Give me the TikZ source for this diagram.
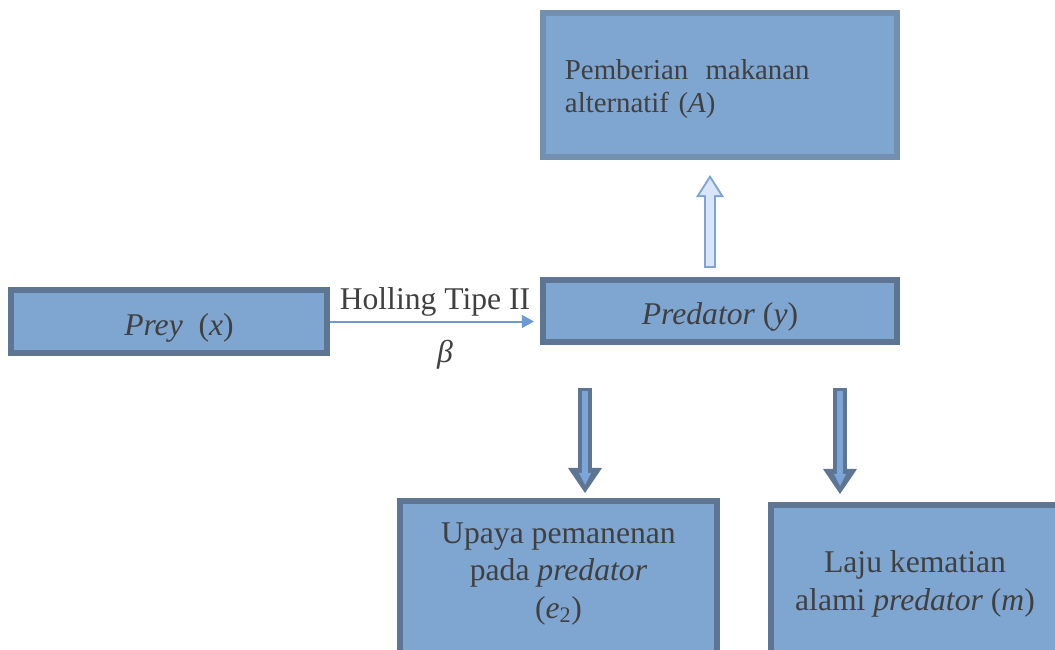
\documentclass[tikz,border=0pt]{standalone}
\usepackage{fontspec}
\setmainfont{Liberation Serif}
\usepackage{tikz}
\definecolor{boxblue}{HTML}{7FA5D1}
\definecolor{boxedge}{HTML}{5F7594}
\definecolor{topedge}{HTML}{7390B0}
\definecolor{textgray}{HTML}{404040}
\definecolor{lineblue}{HTML}{6E9AD3}
\definecolor{upfill}{HTML}{D9E6FA}
\definecolor{upedge}{HTML}{7FA3D6}
\definecolor{stripe}{HTML}{7DA6D8}
\usetikzlibrary{positioning, arrows.meta, calc}
\tikzstyle{arrow} = [line width=0.05cm, color=lineblue, -{Triangle[width=0.32cm,length=0.3cm]}]
\newcommand{\lowered}[2]{\raisebox{-#1}[\height][\depth]{#2}}

\begin{document}
\begin{tikzpicture}[x=0.025cm, y=-0.025cm]
                \tikzstyle{every node}=[font=\fontsize{22.5}{27}\selectfont, text=textgray]
                \tikzstyle{box} = [rectangle, draw=boxedge, fill=boxblue, line width=0.15cm, inner sep=0pt]
                \tikzstyle{topbox} = [box, draw=topedge]
                \tikzstyle{hidden} = [draw=none, align=center]
                \tikzstyle{blockdown} = [line width=0.35cm, draw=boxedge, -{Triangle[width=0.85cm,length=0.625cm,line width=0pt]}]
                \tikzstyle{blockdownin} = [line width=0.15cm, draw=stripe, shorten <=0.075cm, shorten >=0.2cm, -{Triangle[width=0.3cm,length=0.3cm,line width=0pt]}]
                \tikzstyle{blockup} = [line width=0.3cm, draw=upedge, -{Triangle[width=0.7cm,length=0.55cm,line width=0pt]}]
                \tikzstyle{blockupin} = [line width=0.2cm, draw=upfill, shorten <=0.05cm, shorten >=0.0925cm, -{Triangle[width=0.52cm,length=0.41cm,line width=0pt]}]

                \useasboundingbox (0,0) rectangle (1055,650);
                \clip (0,0) rectangle (1055,650);

                \node[topbox, minimum width=8.85cm, minimum height=3.6cm, text width=7.75cm, align=left,
                      font=\fontsize{20.5}{23.5}\selectfont](food) at (720,85)
                      {\lowered{0.1cm}{Pemberian\hspace{0.6em}makanan}\\ \lowered{0.1cm}{alternatif (\textit{A})}};
                \node[box, minimum width=7.9cm, minimum height=1.575cm](prey) at (169,321.5)
                      {\hspace*{0.5cm}\lowered{0.15cm}{\textit{Prey}\hspace{0.5em}(\textit{x})}};
                \node[box, minimum width=8.85cm, minimum height=1.55cm](pred) at (720,311)
                      {\lowered{0.15cm}{\textit{Predator} (\textit{y})}};
                \node[box, minimum width=7.925cm, minimum height=4.4cm](harvest) at (558.5,589) {};
                \node[box, minimum width=7.65cm, minimum height=4.3cm](death) at (924,591) {};

                % texts of the two lower boxes
                \node[hidden, font=\fontsize{22.5}{26.5}\selectfont](harvesttext) at (558.5,574)
                      {Upaya pemanenan\\ pada \textit{predator}\\ (\textit{e}\textsubscript{2})};
                \node[hidden](deathtext) at (915,584)
                      {Laju kematian\\ alami \textit{predator} (\textit{m})};

                \draw[arrow, shorten >=0.15cm] (prey.east) -- (prey.east -| pred.west)
                      node[midway, above, inner sep=3pt]{Holling Tipe II}
                      node[midway, below, inner sep=6pt, xshift=0.25cm, yshift=-0.225cm]{\textit{β}};

                % block arrows
                \coordinate (up1) at (710,268);
                \coordinate (up2) at (710,175);
                \coordinate (dl1) at (585,388);
                \coordinate (dl2) at (585,493);
                \coordinate (dr1) at (840,388);
                \coordinate (dr2) at (840,494);

                \draw[blockup] (up1) -- (up2);
                \draw[blockupin] (up1) -- (up2);
                \draw[blockdown] (dl1) -- (dl2);
                \draw[blockdownin] (dl1) -- (dl2);
                \draw[blockdown] (dr1) -- (dr2);
                \draw[blockdownin] (dr1) -- (dr2);

        \end{tikzpicture}
\end{document}
